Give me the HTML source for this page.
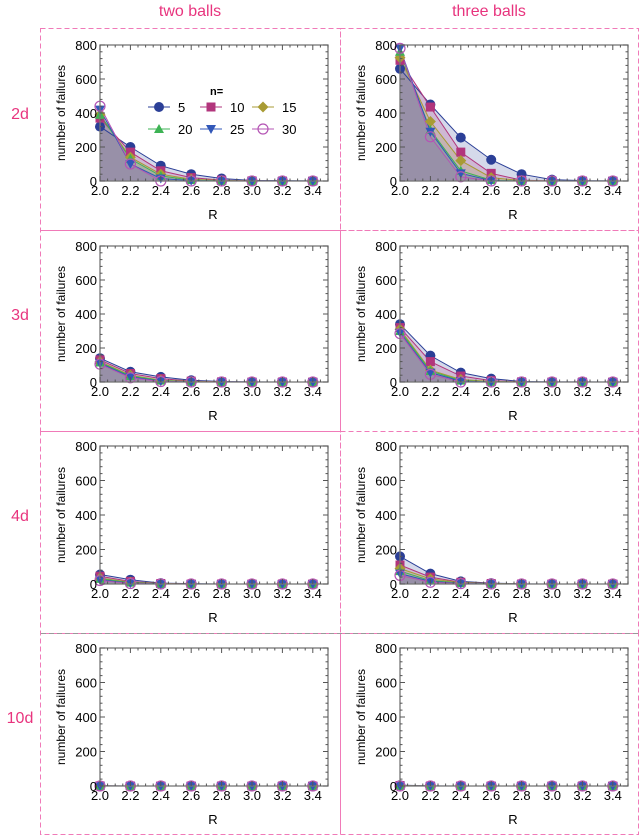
<!DOCTYPE html>
<html><head><meta charset="utf-8">
<style>
html,body{margin:0;padding:0;background:#fff;}
svg{display:block;font-family:"Liberation Sans",sans-serif;}
</style></head>
<body>
<svg id="c" width="640" height="836" xmlns="http://www.w3.org/2000/svg"></svg>
<script>
const xCats=[2.0,2.2,2.4,2.6,2.8,3.0,3.2,3.4];
const nLabels=['5','10','15','20','25','30'];
const yTicks=[0,200,400,600,800];
const xTickLabels=['2.0','2.2','2.4','2.6','2.8','3.0','3.2','3.4'];
const rowLabels=['2d','3d','4d','10d'];
const colLabels=['two balls','three balls'];
// data[row][col][series]
const d2_two=[[320,200,90,40,15,3,2,1],[370,170,60,20,5,1,0,0],[390,140,40,10,3,0,0,0],[390,130,30,5,1,0,0,0],[420,100,15,2,0,0,0,0],[440,100,0,0,0,0,0,0]];
const d2_three=[[660,450,255,125,40,8,2,1],[710,435,170,45,5,0,0,0],[725,350,120,20,2,0,0,0],[760,300,60,5,0,0,0,0],[780,290,45,2,0,0,0,0],[780,260,25,0,0,0,0,0]];
const d3_two=[[140,60,30,10,3,1,0,0],[130,50,20,5,1,0,0,0],[120,40,10,3,0,0,0,0],[115,35,8,1,0,0,0,0],[110,30,5,0,0,0,0,0],[105,25,3,0,0,0,0,0]];
const d3_three=[[340,155,55,20,3,1,1,0],[320,120,35,8,1,0,0,0],[310,70,15,3,0,0,0,0],[300,65,8,1,0,0,0,0],[290,55,5,0,0,0,0,0],[285,45,0,0,0,0,0,0]];
const d4_two=[[55,25,5,2,0,0,0,0],[45,15,3,0,0,0,0,0],[35,10,2,0,0,0,0,0],[30,8,1,0,0,0,0,0],[25,5,0,0,0,0,0,0],[20,3,0,0,0,0,0,0]];
const d4_three=[[160,60,15,5,1,0,0,0],[110,40,10,3,0,0,0,0],[90,30,8,2,0,0,0,0],[75,20,5,1,0,0,0,0],[60,15,3,0,0,0,0,0],[50,10,2,0,0,0,0,0]];
const d10_two=[[2,0,0,0,0,0,0,0],[1,0,0,0,0,0,0,0],[1,0,0,0,0,0,0,0],[0,0,0,0,0,0,0,0],[0,0,0,0,0,0,0,0],[0,0,0,0,0,0,0,0]];
const d10_three=[[5,1,0,0,0,0,0,0],[3,0,0,0,0,0,0,0],[2,0,0,0,0,0,0,0],[1,0,0,0,0,0,0,0],[1,0,0,0,0,0,0,0],[0,0,0,0,0,0,0,0]];
const allData=[[d2_two,d2_three],[d3_two,d3_three],[d4_two,d4_three],[d10_two,d10_three]];

const colors=['#2b3f97','#b2357c','#a89b34','#3db354','#3157b8','#b454b4'];
const shapes=['circle','square','diamond','tri','tridown','open'];
const NS='http://www.w3.org/2000/svg';
const svg=document.getElementById('c');
function el(t,a,p){const e=document.createElementNS(NS,t);for(const k in a)e.setAttribute(k,a[k]);(p||svg).appendChild(e);return e;}

const rowTop=[45,246,446,648], rowBot=[181,382,584,786];
const colLeft=[100,400], colRight=[328,628];
const cellX=[40,340,638], cellY=[28,230,431,633,834];

// borders
for(let r=0;r<4;r++)for(let c=0;c<2;c++){
  const b=el('rect',{x:cellX[c]+0.5,y:cellY[r]+0.5,width:cellX[c+1]-cellX[c],height:cellY[r+1]-cellY[r],fill:'none',stroke:'#f07ab8','stroke-width':1,'stroke-dasharray':'5,3'});
  
  
}
el('line',{x1:41,x2:638,y1:633.5,y2:633.5,stroke:'#999','stroke-dasharray':'5,3'});
colLabels.forEach((t,i)=>{
  const e=el('text',{x:(cellX[i]+cellX[i+1])/2,y:16,'text-anchor':'middle','font-size':16,fill:'#e8347e'});
  e.textContent=t;
  
  
});
rowLabels.forEach((t,i)=>{
  const e=el('text',{x:20,y:(rowTop[i]+rowBot[i])/2+6,'text-anchor':'middle','font-size':16,fill:'#e8347e'});
  e.textContent=t;
  
  
});

function marker(g,s,x,y,col){
  let m;
  if(s==='circle')m=el('circle',{cx:x,cy:y,r:5,fill:col},g);
  else if(s==='open')m=el('circle',{cx:x,cy:y,r:5,fill:'none',stroke:col,'stroke-width':1.2},g);
  else if(s==='square')m=el('rect',{x:x-4.5,y:y-4.5,width:9,height:9,fill:col},g);
  else if(s==='diamond')m=el('polygon',{points:`${x},${y-5.5} ${x+5.5},${y} ${x},${y+5.5} ${x-5.5},${y}`,fill:col},g);
  else if(s==='tri')m=el('polygon',{points:`${x},${y-5} ${x+5},${y+4} ${x-5},${y+4}`,fill:col},g);
  else m=el('polygon',{points:`${x},${y+5} ${x+5},${y-4} ${x-5},${y-4}`,fill:col},g);
  
  
}

for(let r=0;r<4;r++)for(let c=0;c<2;c++){
  const L=colLeft[c],R=colRight[c],T=rowTop[r],B=rowBot[r];
  const xs=v=>L+(v-2.0)/1.5*(R-L);
  const ys=v=>B-v/800*(B-T);
  const g=el('g',{});
  
  
  const data=allData[r][c];
  // fills
  data.forEach((ser,si)=>{
    let pts=xCats.map((x,i)=>xs(x)+','+ys(ser[i])).join(' ');
    pts+=` ${xs(xCats[xCats.length-1])},${B} ${xs(xCats[0])},${B}`;
    const f=el('polygon',{points:pts,fill:colors[si],'fill-opacity':0.2,stroke:'none'},g);
    
    
  });
  data.forEach((ser,si)=>{
    const l=el('polyline',{points:xCats.map((x,i)=>xs(x)+','+ys(ser[i])).join(' '),fill:'none',stroke:colors[si],'stroke-width':1},g);
    
    
  });
  data.forEach((ser,si)=>{ser.forEach((v,i)=>marker(g,shapes[si],xs(xCats[i]),ys(v),colors[si]));});
  // axes box
  const ax=el('rect',{x:L,y:T,width:R-L,height:B-T,fill:'none',stroke:'#777','stroke-width':1.3},g);
  
  
  // y ticks
  for(let v=0;v<=800;v+=40){
    const len=v%200===0?5:2.5;
    el('line',{x1:L,x2:L+len,y1:ys(v),y2:ys(v),stroke:'#555'},g);
    el('line',{x1:R,x2:R-len,y1:ys(v),y2:ys(v),stroke:'#555'},g);
  }
  yTicks.forEach(v=>{
    const t=el('text',{x:L-3,y:ys(v)+5,'text-anchor':'end','font-size':13,fill:'#000'},g);
    t.textContent=v;
    
    
  });
  for(let k=0;k<=30;k++){
    const v=2.0+k*0.05;const len=k%4===0?5:2.5;
    el('line',{x1:xs(v),x2:xs(v),y1:B,y2:B-len,stroke:'#555'},g);
    el('line',{x1:xs(v),x2:xs(v),y1:T,y2:T+len,stroke:'#555'},g);
  }
  xCats.forEach((v,i)=>{
    const t=el('text',{x:xs(v),y:B+14,'text-anchor':'middle','font-size':13,fill:'#000'},g);
    t.textContent=xTickLabels[i];
    
    
  });
  const xt=el('text',{x:(L+R)/2-1,y:B+38,'text-anchor':'middle','font-size':13,fill:'#000'},g);
  xt.textContent='R';
  
  
  const yt=el('text',{x:0,y:0,'text-anchor':'middle','font-size':12,fill:'#000',transform:`translate(${L-35},${(T+B)/2}) rotate(-90)`},g);
  yt.textContent='number of failures';
  
  
}

// legend in top-left panel
const lg=el('g',{});


const lt=el('text',{x:210,y:95,'font-size':11,'font-weight':'bold'},lg);lt.textContent='n=';
const lpos=[[148,107],[200,107],[252,107],[148,129],[200,129],[252,129]];
nLabels.forEach((n,i)=>{
  const [x,y]=lpos[i];
  const e=el('g',{},lg);
  
  
  el('line',{x1:x,x2:x+22,y1:y,y2:y,stroke:colors[i]},e);
  marker(e,shapes[i],x+11,y,colors[i]);
  const t=el('text',{x:x+30,y:y+5,'font-size':13},e);t.textContent=n;
});
</script>
</body></html>
